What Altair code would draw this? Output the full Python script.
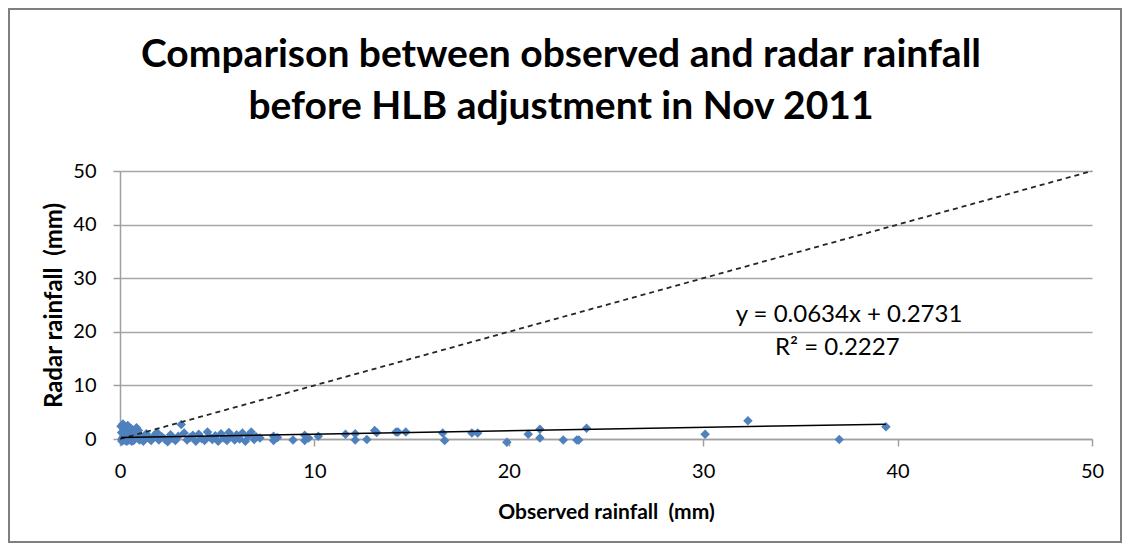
import altair as alt
import pandas as pd

# ---- data ----
obs_near0 = [0.05, 0.08, 0.1, 0.12, 0.15, 0.18, 0.2, 0.22, 0.25, 0.28, 0.3, 0.33, 0.35, 0.4,
             0.42, 0.45, 0.5, 0.55, 0.6, 0.65, 0.7, 0.75, 0.8, 0.85, 0.9, 0.95, 1.0, 0.1,
             0.2, 0.3, 0.4, 0.5, 0.6, 0.7, 0.8, 0.15, 0.25, 0.35, 0.45]
radar_near0 = [2.4, 1.2, 0.0, -0.3, 2.8, 0.5, 1.8, -0.2, 0.9, 2.2, 0.1, 1.5, -0.4, 2.5,
               0.3, 1.1, -0.1, 2.0, 0.6, 1.7, -0.3, 1.4, 0.2, 2.1, 0.8, 1.6, -0.2, -0.4,
               0.4, -0.3, 1.9, 0.0, -0.4, 0.7, 1.3, 0.2, -0.1, 0.6, -0.2]

obs_low = [1.1, 1.2, 1.35, 1.5, 1.6, 1.75, 1.9, 2.0, 2.15, 2.3, 2.45, 2.6, 2.7, 2.85, 3.0,
           3.3, 3.45, 3.6, 3.75, 3.9, 4.05, 4.2, 4.35, 4.5, 4.6, 4.75, 4.9, 5.05, 5.2, 5.35,
           5.5, 5.6, 5.75, 5.9, 6.0, 6.15, 6.3, 6.45, 6.6, 6.75, 6.9, 7.0, 7.2]
radar_low = [0.3, -0.4, 1.0, 0.1, -0.3, 0.6, 1.2, -0.2, 0.4, 0.0, -0.5, 0.8, 0.2, -0.3, 0.5,
             1.1, -0.2, 0.3, 0.7, -0.4, 0.9, 0.1, -0.3, 1.3, 0.4, -0.1, 0.6, -0.4, 1.0, 0.2,
             -0.3, 1.2, 0.5, -0.2, 0.8, 0.0, 1.1, -0.4, 0.6, 1.3, -0.1, 0.4, 0.2]

obs_high = [3.15, 7.9, 7.9, 8.1, 8.9, 9.5, 9.5, 9.7, 10.2, 11.6, 12.1, 12.1, 12.7, 13.1,
            13.2, 14.2, 14.3, 14.7, 16.6, 16.7, 18.1, 18.4, 19.9, 21.0, 21.6, 21.6, 22.8,
            23.5, 23.6, 24.0, 30.1, 32.3, 37.0, 39.4]
radar_high = [2.7, 0.5, -0.3, 0.3, -0.2, 0.7, -0.3, 0.2, 0.5, 0.9, 1.0, -0.2, -0.1, 1.6,
              1.2, 1.3, 1.3, 1.3, 1.1, -0.3, 1.1, 1.1, -0.6, 0.9, 1.8, 0.2, -0.2,
              -0.2, -0.2, 2.0, 0.9, 3.4, -0.1, 2.3]

slope = 0.0634
intercept = 0.2731
r_squared = 0.2227

axis_ticks = [0, 10, 20, 30, 40, 50]

title_lines = ["Comparison between observed and radar rainfall",
               "before HLB adjustment in Nov 2011"]
x_title = "Observed rainfall \u00a0(mm)"
y_title = "Radar rainfall \u00a0(mm)"
eq_text = "y = 0.0634x + 0.2731"
r2_text = "R\u00b2 = 0.2227"

# ---- tables ----
obs = obs_near0 + obs_low + obs_high
radar = radar_near0 + radar_low + radar_high
points = pd.DataFrame({"obs": obs, "radar": radar})

x_end = max(obs)
trend = pd.DataFrame({"obs": [min(obs), x_end],
                      "radar": [slope * min(obs) + intercept, slope * x_end + intercept]})
one_to_one = pd.DataFrame({"obs": [0, 50], "radar": [0, 50]})

FONT = "Lato"
W, H = 972, 268

xscale = alt.Scale(domain=[0, 50], nice=False, zero=False)
yscale = alt.Scale(domain=[0, 50], nice=False, zero=False)

xaxis = alt.Axis(values=axis_ticks, grid=False, title=x_title, tickSize=7,
                 labelPadding=15, titlePadding=20, titleFontWeight="bold",
                 titleFontSize=21, labelFlush=False)
yaxis = alt.Axis(values=axis_ticks, grid=True, title=y_title, tickSize=7,
                 labelPadding=17, titlePadding=6, titleFontWeight="bold",
                 titleFontSize=24, labelFlush=False)

pts = alt.Chart(points).mark_point(
    shape="diamond", filled=True, size=90, color="#4F81BD", opacity=1
).encode(
    x=alt.X("obs:Q", scale=xscale, axis=xaxis),
    y=alt.Y("radar:Q", scale=yscale, axis=yaxis),
)

ref_line = alt.Chart(one_to_one).mark_line(
    color="#262626", strokeWidth=1.8, strokeDash=[5, 4]
).encode(x="obs:Q", y="radar:Q")

trend_line = alt.Chart(trend).mark_line(color="#000000", strokeWidth=1.5).encode(
    x="obs:Q", y="radar:Q"
)

eq = alt.Chart(pd.DataFrame({"k": [0]})).mark_text(
    text=eq_text, font=FONT, fontSize=24, color="#000", align="center", baseline="alphabetic"
).encode(x=alt.datum(37.5), y=alt.datum(21.8))

r2 = alt.Chart(pd.DataFrame({"k": [0]})).mark_text(
    text=r2_text, font=FONT, fontSize=24, color="#000", align="center", baseline="alphabetic"
).encode(x=alt.datum(36.9), y=alt.datum(15.7))

border = alt.Chart(pd.DataFrame({"k": [0]})).mark_rect(
    filled=False, stroke="#7f7f7f", strokeWidth=2
).encode(x=alt.value(-111), x2=alt.value(W + 29), y=alt.value(-162), y2=alt.value(H + 103))

chart = alt.layer(border, pts, ref_line, trend_line, eq, r2).properties(
    width=W,
    height=H,
    title=alt.TitleParams(
        text=title_lines, font=FONT, fontSize=39, fontWeight="bold", color="#000",
        anchor="middle", dx=-45, lineHeight=52, offset=-150, baseline="alphabetic",
    ),
    autosize=alt.AutoSizeParams(type="none"),
    padding={"left": 112, "top": 163, "right": 31, "bottom": 104},
).configure_view(stroke=None).configure_axis(
    domainColor="#a0a0a0", domainWidth=1.5, tickColor="#a0a0a0", tickWidth=1.5,
    gridColor="#a6a6a6", gridWidth=1.5, labelFont=FONT, labelFontSize=20,
    labelColor="#000", titleFont=FONT, titleColor="#000",
)

chart.save("out.html", embed_options={"renderer": "svg", "actions": False})
